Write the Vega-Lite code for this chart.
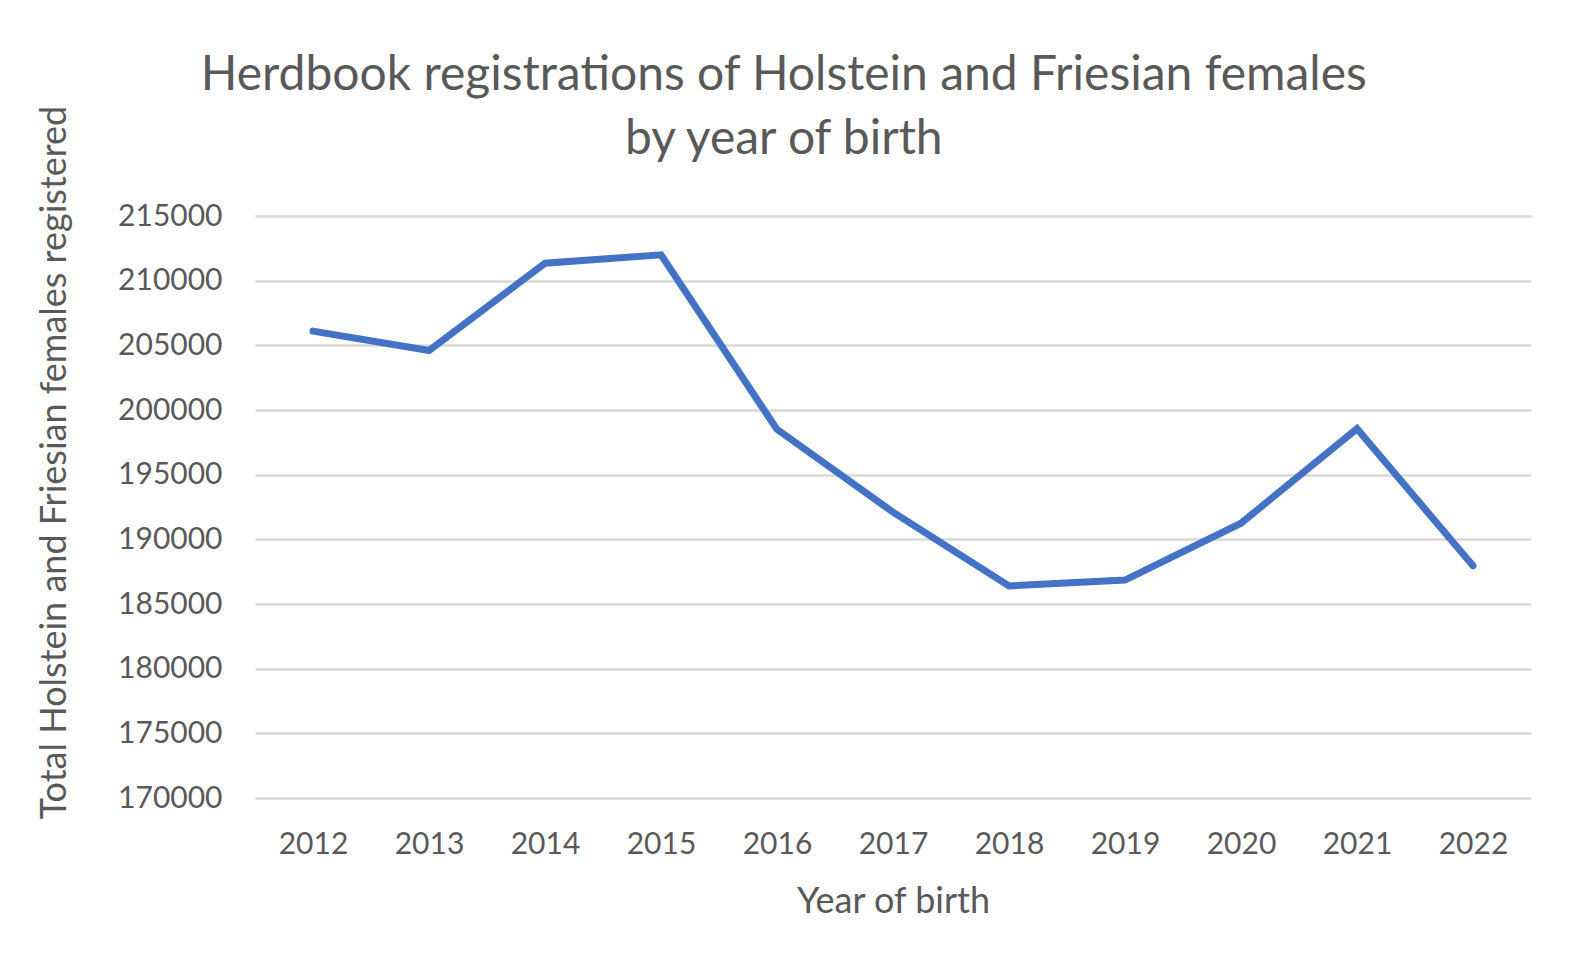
{
  "$schema": "https://vega.github.io/schema/vega-lite/v6.json",
  "width": 1276,
  "height": 582,
  "autosize": {"type": "none"},
  "padding": {"left": 255, "top": 216, "right": 38, "bottom": 169},
  "background": "white",
  "title": {
    "text": ["Herdbook registrations of Holstein and Friesian females", "by year of birth"],
    "font": "Lato",
    "fontSize": 48,
    "fontWeight": "normal",
    "color": "#595959",
    "anchor": "middle",
    "frame": "bounds",
    "lineHeight": 64,
    "offset": -59
  },
  "data": {
    "values": [
      {"year": "2012", "count": 206100},
      {"year": "2013", "count": 204600},
      {"year": "2014", "count": 211350},
      {"year": "2015", "count": 212000},
      {"year": "2016", "count": 198500},
      {"year": "2017", "count": 192100},
      {"year": "2018", "count": 186400},
      {"year": "2019", "count": 186850},
      {"year": "2020", "count": 191250},
      {"year": "2021", "count": 198550},
      {"year": "2022", "count": 187950}
    ]
  },
  "mark": {"type": "line", "color": "#4472C4", "strokeWidth": 7, "strokeCap": "round", "strokeJoin": "miter"},
  "encoding": {
    "x": {
      "field": "year",
      "type": "ordinal",
      "scale": {"type": "point", "padding": 0.5},
      "axis": {
        "title": "Year of birth",
        "labelAngle": 0,
        "ticks": false,
        "domain": false,
        "grid": false,
        "labelPadding": 31,
        "titlePadding": 25,
        "titleFontSize": 36
      }
    },
    "y": {
      "field": "count",
      "type": "quantitative",
      "scale": {"domain": [170000, 215000], "nice": false, "zero": false},
      "axis": {
        "title": "Total Holstein and Friesian females registered",
        "values": [170000, 175000, 180000, 185000, 190000, 195000, 200000, 205000, 210000, 215000],
        "format": "d",
        "ticks": false,
        "domain": false,
        "labelPadding": 33,
        "titlePadding": 44,
        "titleFontSize": 36,
        "titleY": 246
      }
    }
  },
  "config": {
    "view": {"stroke": null},
    "axis": {
      "labelFont": "Lato",
      "labelFontSize": 30,
      "labelColor": "#595959",
      "titleFont": "Lato",
      "titleFontWeight": "normal",
      "titleColor": "#595959",
      "gridColor": "#D9D9D9",
      "gridWidth": 2.5
    }
  }
}
